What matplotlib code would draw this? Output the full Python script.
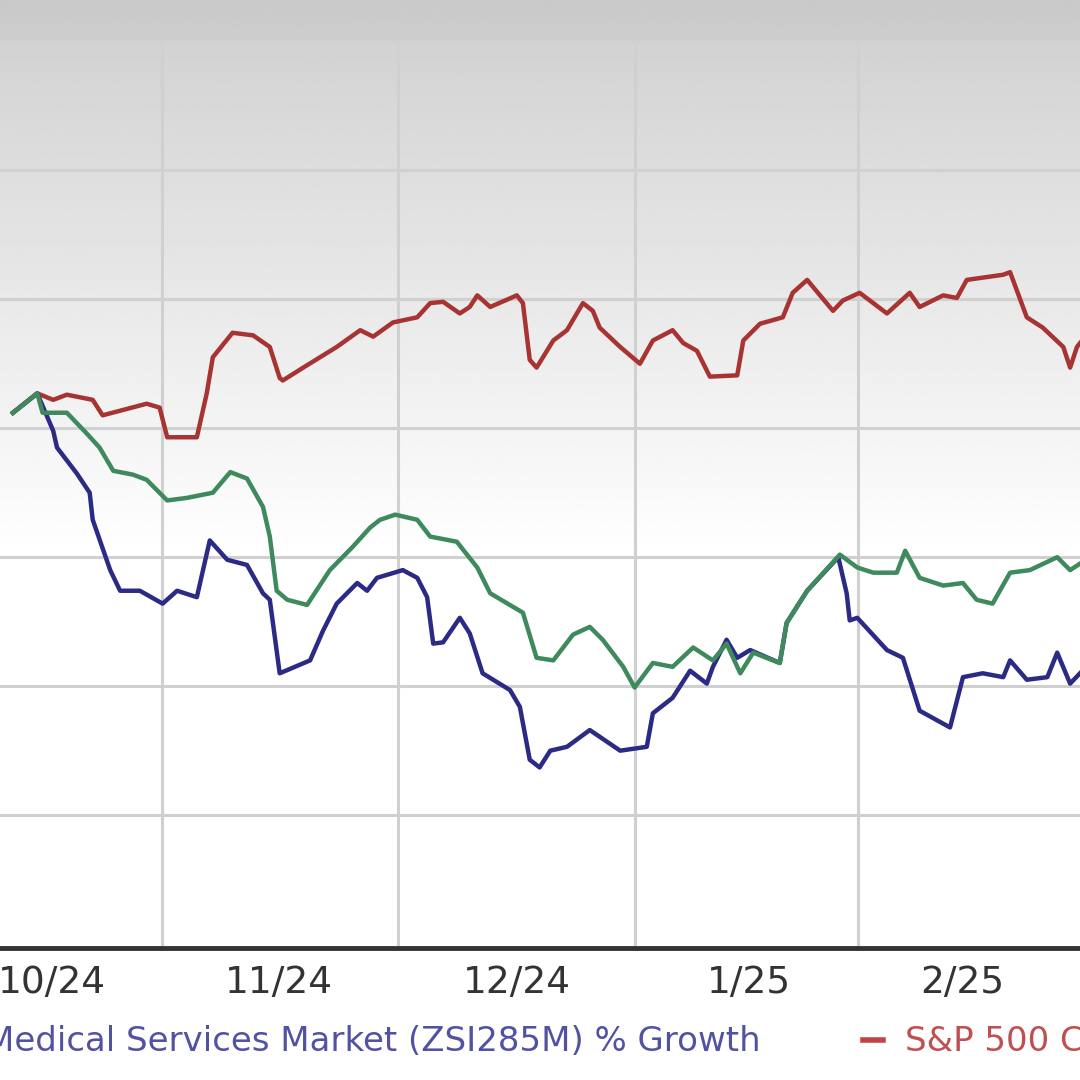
import numpy as np
import matplotlib
matplotlib.use("Agg")
import matplotlib.pyplot as plt
from matplotlib.lines import Line2D

# % growth since start; x = days from start of the window
sp500_days = [0, 3.2, 5.3, 7.1, 10.5, 11.8, 17.6, 19.3, 20.3, 24.2, 25.5, 26.3, 28.9, 31.6,
              33.8, 35.1, 35.5, 38.2, 42.6, 45.7, 47.4, 50.0, 53.2, 54.9, 56.6, 58.8, 60.1,
              61.1, 62.8, 66.3, 67.1, 68.0, 68.9, 71.1, 72.9, 75.0, 76.3, 77.2, 79.9, 82.5,
              84.2, 86.8, 88.2, 90.0, 91.7, 95.3, 96.1, 98.3, 101.3, 102.6, 104.5, 107.9,
              109.2, 111.4, 115.0, 118.0, 119.3, 122.4, 124.2, 125.5, 130.3, 131.2, 133.4,
              135.5, 138.2, 139.1, 140.0, 140.4]
sp500_pct = [1.2, 2.7, 2.2, 2.6, 2.2, 1.0, 1.9, 1.6, -0.7, -0.7, 2.7, 5.5, 7.4, 7.2,
             6.3, 3.9, 3.7, 4.7, 6.3, 7.6, 7.1, 8.2, 8.6, 9.7, 9.8, 8.9, 9.4,
             10.3, 9.4, 10.3, 9.7, 5.3, 4.7, 6.8, 7.6, 9.7, 9.1, 7.8, 6.3, 5.0,
             6.8, 7.6, 6.6, 6.0, 4.0, 4.1, 6.8, 8.1, 8.6, 10.5, 11.5, 9.1,
             9.9, 10.5, 8.9, 10.5, 9.4, 10.3, 10.1, 11.5, 11.9, 12.1, 8.6,
             7.8, 6.3, 4.7, 6.3, 6.6]

industry_days = [0, 3.2, 3.9, 7.1, 9.7, 11.4, 13.2, 15.8, 17.6, 20.3, 22.9, 26.3, 28.6, 30.8,
                 32.9, 33.8, 34.7, 36.1, 38.7, 41.7, 44.7, 47.0, 48.3, 50.3, 53.2, 54.9, 58.4,
                 61.1, 62.8, 67.1, 68.9, 71.1, 73.7, 75.9, 77.6, 80.3, 81.8, 84.2, 86.8, 89.5,
                 92.1, 93.9, 95.7, 97.4, 100.9, 101.8, 104.5, 108.8, 111.1, 113.2, 116.3, 117.4,
                 119.3, 122.4, 125.0, 126.8, 128.9, 131.2, 133.8, 137.4, 139.1, 140.4]
industry_pct = [1.2, 2.7, 1.2, 1.2, -0.4, -1.5, -3.3, -3.6, -4.0, -5.6, -5.4, -5.0, -3.4, -3.9,
                -6.1, -8.4, -12.6, -13.3, -13.7, -11.0, -9.2, -7.7, -7.1, -6.7, -7.1, -8.4, -8.8,
                -10.8, -12.8, -14.3, -17.8, -18.0, -16.0, -15.4, -16.4, -18.5, -20.1, -18.2, -18.5, -17.0,
                -18.0, -16.7, -19.0, -17.4, -18.2, -15.1, -12.6, -9.8, -10.8, -11.2, -11.2, -9.5,
                -11.6, -12.2, -12.0, -13.3, -13.6, -11.2, -11.0, -10.0, -11.0, -10.5]

stock_days = [0, 3.2, 5.3, 5.8, 8.4, 10.1, 10.5, 12.8, 14.1, 16.7, 19.7, 21.6, 24.2, 25.9,
              28.2, 30.8, 32.9, 33.8, 35.1, 39.1, 40.8, 42.6, 45.3, 46.6, 47.9, 51.3, 53.2,
              54.5, 55.3, 56.6, 58.8, 60.1, 61.8, 65.4, 66.7, 68.0, 69.3, 70.7, 72.9, 75.9,
              79.9, 83.4, 84.2, 86.8, 89.1, 91.3, 92.1, 93.9, 95.3, 97.0, 100.9, 101.8, 104.5,
              108.6, 109.7, 110.1, 111.1, 115.0, 117.1, 119.3, 123.3, 125.0, 127.6, 130.3,
              131.2, 133.4, 136.1, 137.4, 139.1, 140.4]
stock_pct = [1.2, 2.7, -0.2, -1.5, -3.5, -5.0, -7.1, -11.0, -12.6, -12.6, -13.6, -12.6, -13.1, -8.7,
             -10.2, -10.6, -12.8, -13.3, -19.0, -18.0, -15.7, -13.6, -12.0, -12.6, -11.6, -11.0, -11.6,
             -13.1, -16.7, -16.6, -14.7, -15.9, -19.0, -20.3, -21.6, -25.7, -26.3, -25.0, -24.7, -23.4,
             -25.0, -24.7, -22.1, -20.9, -18.8, -19.8, -18.5, -16.4, -17.8, -17.2, -18.2, -15.1, -12.6,
             -10.0, -12.8, -14.9, -14.7, -17.2, -17.8, -21.9, -23.2, -19.3, -19.0, -19.3,
             -18.0, -19.5, -19.3, -17.4, -19.8, -19.0]

month_labels = ["10/24", "11/24", "12/24", "1/25", "2/25"]
month_label_days = [5.1, 35.0, 66.3, 96.8, 124.9]
grid_days = [19.6, 50.7, 81.8, 111.2]
grid_pct = [-30, -20, -10, 0, 10, 20, 30]

x_lo, x_hi = -1.7, 140.4
y_lo, y_hi = -40.3, 33.2

fig = plt.figure(figsize=(10.8, 10.8), dpi=100)
fig.patch.set_facecolor("white")
ax = fig.add_axes([0, 0.1222, 1, 0.8778])
ax.set_xlim(x_lo, x_hi)
ax.set_ylim(y_lo, y_hi)

# grey-to-white background
yy = np.linspace(y_hi, y_lo, 600)
shade = np.where(yy > 30, 0.79 + (33.2 - yy) / 3.2 * 0.015,
                 np.clip(0.825 + (30 - yy) / 40 * 0.175, 0, 1))
bg = np.repeat(shade[:, None], 2, axis=1)
ax.imshow(bg, cmap="gray", vmin=0, vmax=1, aspect="auto",
          extent=[x_lo, x_hi, y_lo, y_hi], zorder=0, interpolation="bilinear")

for g in grid_pct:
    ax.axhline(g, color="#d0d0d0", lw=2.2, zorder=1)
ax.vlines(grid_days, y_lo, 30, color="#d0d0d0", lw=2.2, zorder=1)

ax.plot(sp500_days, sp500_pct, color="#a83333", lw=3.2, zorder=3)
ax.plot(stock_days, stock_pct, color="#2b2b86", lw=3.2, zorder=3)
ax.plot(industry_days, industry_pct, color="#3e8a5c", lw=3.2, zorder=4)

for s in ["top", "left", "right"]:
    ax.spines[s].set_visible(False)
ax.spines["bottom"].set_color("#333333")
ax.spines["bottom"].set_linewidth(3.5)
ax.set_yticks([])
ax.set_xticks(month_label_days)
ax.set_xticklabels(month_labels, fontsize=27, color="#333333")
ax.tick_params(axis="x", length=0, pad=12)

fig.text(0.704, 0.036, "Medical Services Market (ZSI285M) % Growth",
         ha="right", va="center", fontsize=24.5, color="#5252a3")
fig.add_artist(Line2D([0.799, 0.818], [0.037, 0.037], color="#c04646", lw=4))
fig.text(0.838, 0.036, "S&P 500 Composite % Growth",
         ha="left", va="center", fontsize=24.5, color="#c05050")

fig.savefig("out.png", dpi=100)
